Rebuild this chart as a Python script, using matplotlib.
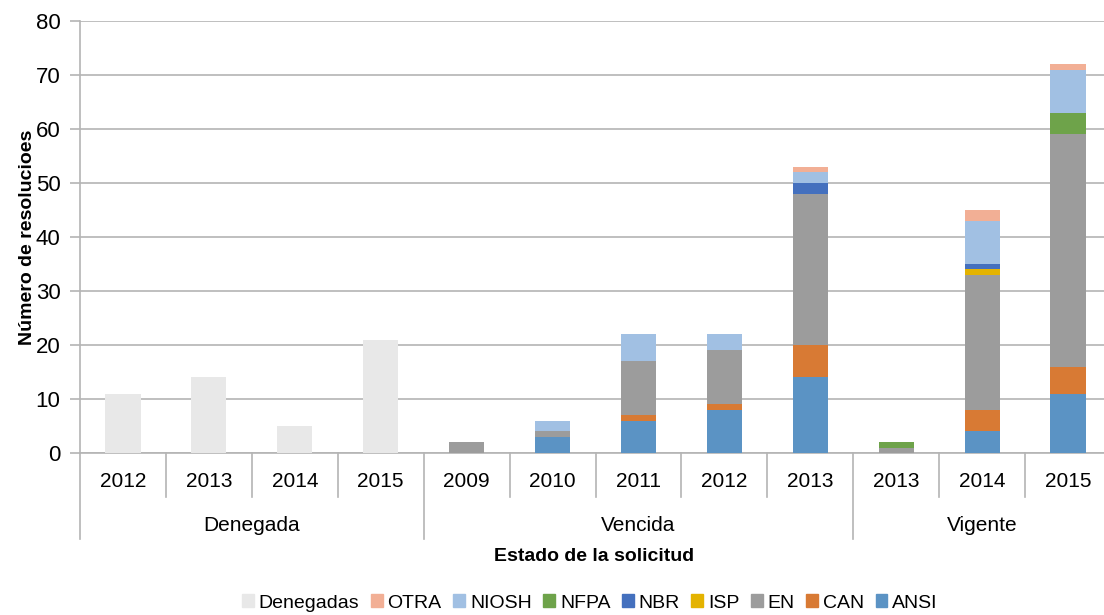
import numpy as np
import matplotlib
matplotlib.use("Agg")
import matplotlib.pyplot as plt
from matplotlib import font_manager
from matplotlib.transforms import blended_transform_factory
from matplotlib.patches import Patch

# fuente estrecha tipo Arial Narrow si existe
nombres = set(f.name for f in font_manager.fontManager.ttflist)
if "Liberation Sans Narrow" in nombres:
    plt.rcParams["font.family"] = ["Liberation Sans Narrow", "Liberation Sans", "DejaVu Sans"]
else:
    plt.rcParams["font.family"] = ["Liberation Sans", "DejaVu Sans"]

# datos
anios = ["2012", "2013", "2014", "2015",
         "2009", "2010", "2011", "2012", "2013",
         "2013", "2014", "2015"]
grupos = ["Denegada", "Vencida", "Vigente"]
n_grupo = [4, 5, 3]

denegadas = [11, 14, 5, 21, 0, 0, 0, 0, 0, 0, 0, 0]
ansi  = [0, 0, 0, 0, 0, 3, 6, 8, 14, 0, 4, 11]
can   = [0, 0, 0, 0, 0, 0, 1, 1, 6, 0, 4, 5]
en    = [0, 0, 0, 0, 2, 1, 10, 10, 28, 1, 25, 43]
isp   = [0, 0, 0, 0, 0, 0, 0, 0, 0, 0, 1, 0]
nbr   = [0, 0, 0, 0, 0, 0, 0, 0, 2, 0, 1, 0]
nfpa  = [0, 0, 0, 0, 0, 0, 0, 0, 0, 1, 0, 4]
niosh = [0, 0, 0, 0, 0, 2, 5, 3, 2, 0, 8, 8]
otra  = [0, 0, 0, 0, 0, 0, 0, 0, 1, 0, 2, 1]

series = [
    ("ANSI", ansi, "#5B93C4"),
    ("CAN", can, "#D87A34"),
    ("EN", en, "#9C9C9C"),
    ("ISP", isp, "#E4B300"),
    ("NBR", nbr, "#4470BE"),
    ("NFPA", nfpa, "#6EA34A"),
    ("NIOSH", niosh, "#A1C0E3"),
    ("OTRA", otra, "#F2AF95"),
]
color_den = "#E8E8E8"
gris = "#B4B4B4"

fig = plt.figure(figsize=(11.04, 6.15), dpi=100)
ax = fig.add_axes([80/1104, 162/615, 1031/1104, 432/615])

x = np.arange(len(anios))
ancho = 0.41
base = np.zeros(len(anios))
ax.bar(x, denegadas, ancho, color=color_den, zorder=3)
for nombre, vals, col in series:
    ax.bar(x, vals, ancho, bottom=base, color=col, zorder=3)
    base = base + np.array(vals)

ax.set_xlim(-0.5, len(anios) - 0.5)
ax.set_ylim(0, 80)
ax.set_yticks(range(0, 81, 10))
ax.yaxis.grid(True, color=gris, linewidth=1.2, zorder=0)
ax.tick_params(axis="y", length=7, width=1.2, color=gris, labelsize=16, pad=7)
ax.set_xticks([])
for lado in ["top", "right"]:
    ax.spines[lado].set_visible(False)
for lado in ["left", "bottom"]:
    ax.spines[lado].set_color(gris)
    ax.spines[lado].set_linewidth(1.2)

# el texto original dice "resolucioes"
ax.set_ylabel("Número de resolucioes", fontsize=14, fontweight="bold", labelpad=0)

# etiquetas multinivel del eje x
tr = blended_transform_factory(ax.transData, ax.transAxes)
for i, a in enumerate(anios):
    ax.text(i, -0.067, a, transform=tr, ha="center", va="center", fontsize=15)

limites = np.cumsum([0] + n_grupo) - 0.5
for b in np.arange(len(anios) + 1) - 0.5:
    y_fin = -0.199 if b in limites else -0.102
    ax.plot([b, b], [0, y_fin], transform=tr, color=gris, linewidth=1.2, clip_on=False)

for k, g in enumerate(grupos):
    centro = (limites[k] + limites[k + 1]) / 2
    ax.text(centro, -0.167, g, transform=tr, ha="center", va="center", fontsize=15)

ax.text((594 - 80) / 1031, -0.24, "Estado de la solicitud", transform=ax.transAxes,
        ha="center", va="center", fontsize=14, fontweight="bold")

# leyenda
handles = [Patch(color=color_den, label="Denegadas")]
for nombre, vals, col in reversed(series):
    handles.append(Patch(color=col, label=nombre))
fig.legend(handles=handles, loc="center", bbox_to_anchor=(590/1104, 1 - 603/615), ncol=9,
           frameon=False, fontsize=14, handlelength=0.6, handleheight=0.6,
           handletextpad=0.25, columnspacing=0.6)

fig.savefig("out.png", dpi=100)
